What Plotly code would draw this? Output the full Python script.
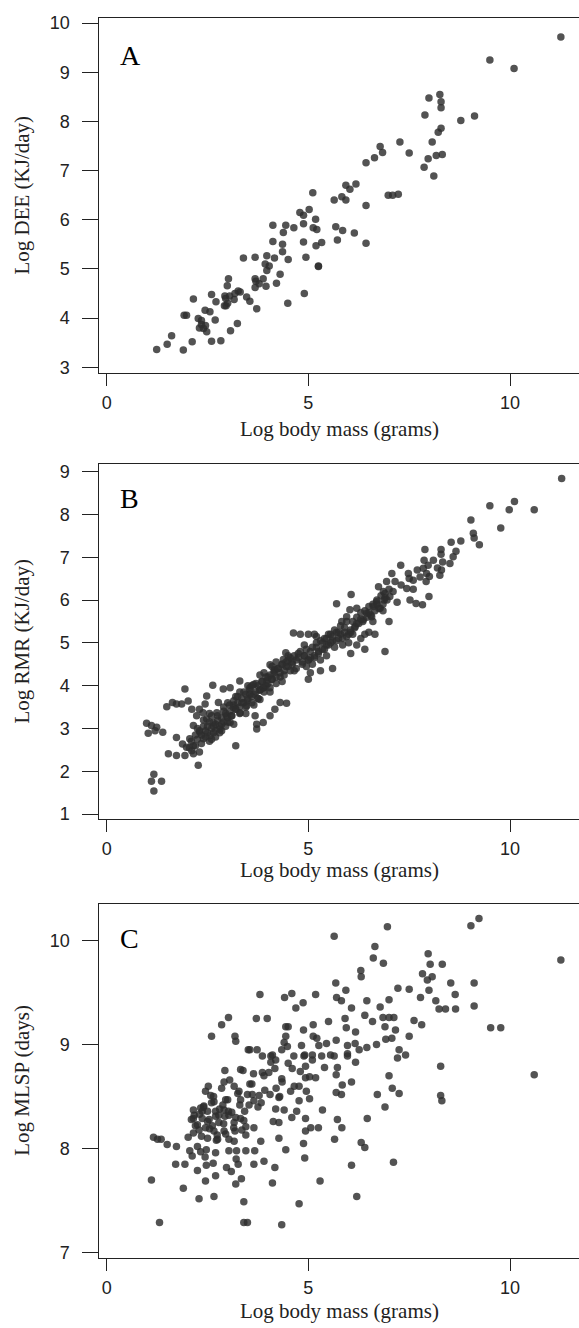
import plotly.graph_objects as go

# ---- Panel A: daily energy expenditure vs body mass (log scales) ----
dee_mass = [
    1.24, 1.50, 1.61, 1.90, 2.12, 2.15, 1.92, 1.98, 2.27, 2.35, 2.40, 2.48, 2.44, 2.56,
    2.60, 2.71, 2.69, 2.60, 2.83, 3.07, 3.24, 2.93, 2.96, 2.99, 3.02, 3.16, 3.26, 3.31,
    3.47, 3.55, 3.72, 3.68, 3.68, 3.78, 3.88, 3.95, 4.21, 4.30, 3.93, 4.03, 3.97, 3.39,
    3.68, 3.97, 4.16, 4.36, 4.50, 4.36, 4.12, 4.49, 4.90, 4.94, 4.88, 5.19, 5.33, 5.25,
    4.12, 4.44, 4.38, 4.64, 4.88, 4.88, 4.79, 5.02, 5.12, 5.21, 5.18, 5.11, 5.64, 5.83,
    5.93, 5.93, 6.03, 6.18, 5.68, 5.85, 6.14, 5.72, 6.43, 6.43, 6.43, 6.64, 6.84, 6.78,
    6.98, 7.09, 7.23, 11.26, 9.50, 10.10, 7.99, 8.26, 8.29, 8.29, 7.89, 8.78, 9.12, 8.29,
    8.22, 7.27, 8.07, 7.50, 7.97, 8.17, 8.32, 7.87, 8.11, 2.45, 2.30, 2.95, 3.05, 2.35,
    3.18, 3.00, 3.70, 5.25, 2.92,
]
dee_log = [
    3.36, 3.47, 3.64, 3.35, 3.52, 4.39, 4.06, 4.06, 3.99, 3.87, 3.79, 3.72, 4.16, 4.13,
    4.48, 4.33, 3.96, 3.53, 3.54, 3.74, 3.89, 4.45, 4.25, 4.66, 4.80, 4.38, 4.55, 4.53,
    4.43, 4.34, 4.19, 4.62, 4.80, 4.70, 4.80, 4.65, 4.71, 4.89, 5.10, 5.06, 4.97, 5.22,
    5.24, 5.27, 5.22, 5.35, 5.19, 5.50, 5.56, 4.30, 4.50, 5.24, 5.55, 5.47, 5.54, 5.06,
    5.89, 5.89, 5.74, 5.84, 5.92, 6.09, 6.15, 6.21, 5.84, 5.80, 6.01, 6.55, 6.40, 6.47,
    6.40, 6.70, 6.62, 6.73, 5.86, 5.78, 5.73, 5.59, 5.52, 6.29, 7.16, 7.26, 7.37, 7.49,
    6.50, 6.50, 6.52, 9.72, 9.25, 9.08, 8.48, 8.55, 8.40, 8.28, 8.13, 8.02, 8.11, 7.86,
    7.78, 7.58, 7.58, 7.36, 7.24, 7.31, 7.33, 7.07, 6.89, 3.85, 3.80, 4.40, 4.45, 3.95,
    4.50, 4.30, 4.75, 5.05, 4.25,
]

# ---- Panel B: resting metabolic rate vs body mass ----
rmr_mass = [
    11.28, 9.50, 10.11, 9.98, 10.60, 9.03, 9.77, 9.09, 9.11, 9.24, 8.54, 8.78, 7.89, 8.29,
    8.29, 8.66, 8.59, 8.51, 7.29, 7.87, 8.10, 7.97, 8.33, 8.30, 8.26, 7.85, 7.93, 7.77,
    7.92, 7.48, 7.60, 7.44, 7.52, 7.67, 7.83, 7.99, 7.07, 6.94, 7.15, 6.74, 6.86, 7.02,
    6.88, 6.69, 6.61, 6.78, 7.00, 6.06, 5.70, 6.03, 6.20, 5.83, 5.95, 6.45, 6.36, 6.57,
    6.16,
    0.99, 1.11, 1.24, 1.03, 1.20, 1.39, 1.17, 1.11, 1.36, 1.17, 1.49, 1.63, 1.53, 1.73,
    1.73, 1.94, 1.86, 2.02, 2.11, 2.27, 1.94, 1.88, 1.98, 2.11, 2.15, 2.06, 2.15, 2.23,
    2.30, 2.44, 2.48, 2.63, 2.77, 2.89, 3.06, 3.30, 3.20, 2.31, 2.40, 2.48, 2.64, 2.73,
    2.81, 2.56, 2.97, 3.14, 3.06, 3.31, 3.47, 3.55, 3.68, 3.80, 3.88, 3.64, 3.97, 4.05,
    4.17, 4.38, 4.44, 3.72, 3.88, 3.72, 4.05, 4.17, 4.30, 4.46, 4.63, 1.73, 2.39,
    4.85, 4.90, 4.95, 5.00, 5.05, 5.10, 5.15, 5.20, 5.25, 5.30, 5.35, 5.40, 5.45, 5.50,
    5.55, 5.60, 5.65, 5.70, 5.75, 5.80, 5.85, 5.90, 5.95, 6.00, 6.05, 6.10, 6.20, 6.30,
    6.40, 6.50, 5.05, 5.30, 5.60, 6.05, 6.40, 6.90, 5.00, 4.90, 5.20, 5.45, 6.65,
    2.35, 2.45, 2.50, 2.55, 2.60, 2.65, 2.70, 2.75, 2.80, 2.85, 2.90, 2.95, 3.00, 3.05,
    3.10, 3.15, 3.20, 3.25, 3.30, 3.35, 3.40, 3.45, 3.50, 3.55, 3.60, 3.65, 3.70, 3.75,
    3.80, 3.85, 3.90, 3.95, 4.00, 4.05, 4.10, 4.15, 4.20, 4.25, 4.30, 4.35, 4.40, 4.45,
    4.50, 4.55, 4.60, 4.70, 4.75,
    2.40, 2.55, 2.70, 2.85, 3.00, 3.15, 3.30, 3.45, 3.60, 3.75, 3.90, 4.05, 4.20, 4.35,
    4.50, 4.65, 2.20, 2.30, 2.25, 2.60, 2.90, 3.20, 3.50, 3.80, 4.10,
    6.30, 6.50, 6.70, 6.90, 7.10, 7.30, 7.50, 7.70, 6.20, 6.60, 6.85, 7.20, 7.60, 8.00,
    8.20, 4.80, 5.00, 5.15,
    2.05, 2.10, 2.15, 2.20, 2.25, 2.30, 2.35, 2.40, 2.45, 2.50, 2.55, 2.60, 2.65, 2.70,
    2.75, 2.80, 2.85, 2.90, 2.95, 3.00,
    3.05, 3.10, 3.15, 3.20, 3.25, 3.30, 3.35, 3.40, 3.45, 3.50, 3.55, 3.60, 3.65, 3.70,
    3.75, 3.80, 3.85, 3.90, 3.95, 4.00,
    4.05, 4.10, 4.15, 4.20, 4.25, 4.30, 4.35, 4.40, 4.45, 4.50, 4.55, 4.60, 4.65, 4.70,
    4.75, 4.80, 4.85, 4.90, 4.95, 5.00,
    5.05, 5.10, 5.15, 5.20, 5.25, 5.30, 5.35, 5.40, 5.45, 5.50, 5.55, 5.60, 5.65, 5.70,
    5.75, 5.80, 5.85, 5.90, 5.95, 6.00,
    6.05, 6.10, 6.15, 6.20, 6.25, 6.30, 6.35, 6.40, 6.45, 6.50, 6.55, 6.60, 6.65, 6.70,
    6.75, 6.80, 6.85, 6.90, 6.95, 7.00,
]
rmr_log = [
    8.84, 8.20, 8.30, 8.11, 8.11, 7.87, 7.68, 7.56, 7.45, 7.29, 7.35, 7.38, 7.18, 7.18,
    7.07, 7.14, 7.01, 6.85, 6.81, 6.93, 6.93, 6.81, 6.89, 6.70, 6.58, 6.74, 6.62, 6.54,
    6.43, 6.62, 6.46, 6.27, 6.00, 5.92, 5.89, 6.08, 6.62, 6.43, 6.43, 6.31, 6.20, 6.08,
    6.00, 5.96, 5.85, 5.81, 5.50, 6.13, 5.91, 5.77, 5.81, 5.50, 5.61, 5.69, 5.54, 5.61,
    5.38,
    3.12, 3.07, 3.03, 2.89, 2.95, 2.91, 1.93, 1.77, 1.77, 1.54, 3.51, 3.61, 2.41, 2.37,
    2.79, 3.92, 3.57, 3.64, 3.45, 2.14, 2.37, 2.64, 2.56, 2.48, 2.41, 2.76, 3.07, 3.30,
    3.45, 3.57, 3.76, 4.01, 3.61, 3.92, 3.95, 4.11, 2.60, 2.91, 2.76, 3.22, 3.14, 3.37,
    2.99, 2.83, 3.30, 3.49, 3.14, 3.37, 3.53, 3.80, 3.30, 3.68, 3.95, 4.03, 4.11, 4.49,
    4.38, 4.61, 4.77, 3.10, 3.14, 2.99, 3.30, 3.45, 3.61, 3.59, 5.23, 3.57, 3.37,
    4.55, 4.70, 4.45, 4.60, 4.80, 4.50, 4.65, 4.90, 4.75, 4.60, 5.00, 4.85, 5.10, 4.95,
    5.20, 5.05, 4.90, 5.25, 5.10, 5.20, 4.95, 5.25, 5.15, 5.00, 5.25, 5.20, 4.95, 5.10,
    5.20, 5.25, 4.30, 4.35, 4.40, 4.75, 4.85, 4.80, 4.15, 4.95, 5.15, 4.70, 5.20,
    2.85, 2.95, 3.05, 2.70, 3.00, 2.90, 3.10, 3.20, 3.05, 3.25, 3.15, 3.35, 3.25, 3.40,
    3.30, 3.55, 3.45, 3.60, 3.50, 3.70, 3.60, 3.80, 3.65, 3.90, 3.75, 3.55, 3.85, 4.00,
    3.90, 4.10, 3.95, 4.20, 4.05, 4.25, 4.15, 4.35, 4.20, 4.40, 4.30, 4.50, 4.35, 4.55,
    4.45, 4.65, 4.50, 4.60, 4.75,
    3.20, 3.35, 2.80, 2.95, 3.60, 3.10, 3.85, 3.35, 4.00, 3.70, 4.30, 3.85, 4.55, 4.10,
    4.70, 4.35, 2.60, 2.45, 3.00, 3.30, 3.50, 3.75, 4.00, 4.25, 4.45,
    5.55, 5.70, 5.90, 6.05, 6.20, 6.35, 6.50, 6.70, 5.45, 5.50, 5.75, 5.95, 6.25, 6.55,
    6.75, 5.20, 5.20, 5.20,
    2.55, 2.70, 2.60, 2.85, 2.75, 2.95, 2.65, 3.05, 2.80, 2.90, 3.15, 2.75, 3.05, 2.95,
    3.30, 2.90, 3.10, 3.40, 3.05, 3.15,
    3.55, 3.30, 3.65, 3.45, 3.75, 3.35, 3.60, 3.85, 3.50, 3.70, 3.95, 3.60, 3.80, 4.05,
    3.70, 3.90, 4.10, 3.85, 4.00, 4.20,
    3.95, 4.15, 4.30, 4.05, 4.40, 4.20, 4.50, 4.25, 4.45, 4.60, 4.35, 4.55, 4.70, 4.40,
    4.65, 4.80, 4.50, 4.70, 4.85, 4.60,
    4.65, 4.90, 4.70, 5.00, 4.80, 5.05, 4.85, 5.10, 4.95, 5.20, 5.00, 5.15, 5.30, 5.05,
    5.25, 5.40, 5.10, 5.35, 5.50, 5.20,
    5.30, 5.50, 5.35, 5.60, 5.45, 5.70, 5.50, 5.75, 5.60, 5.85, 5.65, 5.90, 5.75, 6.00,
    5.80, 6.10, 5.90, 6.15, 6.00, 6.25,
]

# ---- Panel C: maximum lifespan vs body mass ----
mlsp_mass = [
    6.96, 5.64, 9.03, 9.23, 11.26, 6.65, 6.61, 6.86, 7.97, 8.02, 8.32, 6.30, 6.31, 7.83,
    8.07, 7.95, 5.68, 5.93, 8.53, 9.11, 3.80, 4.41, 4.59, 5.18, 4.87, 4.69, 5.70, 5.82,
    6.07, 6.45, 6.78, 7.00, 7.22, 7.50, 7.78, 7.99, 8.16, 8.64, 8.24, 8.40, 8.65, 9.11,
    3.02, 2.85, 2.60, 3.18, 3.20, 3.71, 3.98, 4.44, 4.50, 4.88, 5.12, 5.50, 5.91, 5.94,
    6.17, 6.40, 6.59, 6.85, 7.00, 7.12, 6.90, 7.16, 7.62, 7.81, 7.50, 9.52, 9.77, 5.12,
    5.21, 5.69, 5.97, 6.16, 6.92, 7.07, 6.69, 6.45, 6.26, 5.97, 5.64, 5.33, 5.10, 4.89,
    4.40, 4.48, 4.34, 4.64, 3.51, 3.73, 3.86, 4.07, 4.07, 4.19, 7.25, 7.41, 7.21, 6.17,
    5.97, 5.72, 5.69, 6.07, 5.84, 5.69, 5.82, 8.28, 10.60, 7.00, 7.08, 7.25, 6.71, 6.90,
    8.28, 8.31, 6.46, 5.72, 5.83, 5.65, 6.31, 6.40, 7.11, 6.07, 6.20, 5.29, 4.77, 4.34,
    3.40, 3.49, 1.31, 1.11, 1.90, 2.29, 2.66, 3.40, 4.11, 3.20, 3.34, 2.45, 2.70, 3.09,
    2.25, 1.71, 1.94, 2.47, 2.64, 2.97, 3.26, 3.65, 3.90, 4.17, 4.91, 4.44, 4.27, 4.88,
    4.93, 5.06, 5.25, 4.93, 5.35, 4.77, 4.71, 4.59, 4.40, 4.19, 4.13, 4.27, 5.03, 4.77,
    4.34, 4.60, 4.93, 5.03, 5.18, 4.93, 3.64, 3.86, 4.02, 4.17, 3.32, 2.93, 2.91, 3.16,
    2.52, 3.28, 3.32, 3.49, 3.61, 3.65, 3.83, 3.92, 4.29, 3.78, 2.58, 2.66, 2.95, 2.41,
    2.15, 2.37, 2.50, 2.70, 2.91, 3.02, 2.93, 2.37, 2.54, 2.15, 2.25, 2.29, 2.45, 2.62,
    2.78, 2.91, 3.16, 3.32, 3.42, 3.45, 3.65, 3.18, 3.45, 3.82, 3.16, 3.03, 2.72, 2.50,
    2.02, 1.16, 1.26, 1.35, 1.50, 1.73, 2.06, 2.12, 2.25, 2.33, 2.47, 2.44, 2.70, 3.03,
    3.22, 3.21, 3.45, 3.67, 3.38, 3.55, 4.11, 4.83, 5.26, 5.45, 5.55, 4.44, 4.91, 4.56,
    2.33, 2.78, 3.03, 2.66, 2.74, 2.17, 2.88, 3.53, 4.27,
    2.10, 2.20, 2.30, 2.40, 2.50, 2.60, 2.70, 2.80, 2.90, 3.00, 3.10, 3.20, 3.30, 3.40,
    2.15, 2.35, 2.55, 2.75, 2.95, 3.15, 3.35, 3.55, 2.45, 2.65, 2.85, 3.05, 3.25,
    3.60, 3.90, 4.20, 4.50, 4.80, 5.10, 5.40, 3.75, 4.05, 4.35, 4.65, 4.95,
]
mlsp_log = [
    10.13, 10.04, 10.14, 10.21, 9.81, 9.94, 9.83, 9.78, 9.87, 9.77, 9.77, 9.71, 9.65, 9.68,
    9.65, 9.62, 9.59, 9.52, 9.59, 9.59, 9.48, 9.45, 9.49, 9.48, 9.40, 9.35, 9.45, 9.42,
    9.35, 9.42, 9.36, 9.43, 9.54, 9.53, 9.45, 9.52, 9.42, 9.48, 9.34, 9.34, 9.34, 9.37,
    9.26, 9.19, 9.08, 9.08, 9.03, 9.25, 9.25, 9.17, 9.17, 9.14, 9.19, 9.22, 9.25, 9.16,
    9.12, 9.28, 9.22, 9.26, 9.26, 9.26, 9.17, 9.14, 9.23, 9.19, 9.08, 9.16, 9.16, 9.08,
    9.06, 9.04, 8.99, 9.01, 9.05, 9.06, 9.00, 8.97, 8.95, 8.91, 8.89, 8.89, 8.90, 8.89,
    9.02, 8.98, 8.95, 8.89, 8.95, 8.95, 8.89, 8.89, 8.83, 8.85, 8.95, 8.90, 8.87, 8.83,
    8.89, 8.78, 8.71, 8.64, 8.61, 8.54, 8.52, 8.79, 8.71, 8.70, 8.58, 8.53, 8.52, 8.40,
    8.51, 8.46, 8.29, 8.28, 8.20, 8.09, 8.06, 8.01, 7.87, 7.84, 7.54, 7.69, 7.47, 7.27,
    7.29, 7.29, 7.29, 7.70, 7.62, 7.52, 7.54, 7.49, 7.67, 7.66, 7.71, 7.69, 7.74, 7.78,
    7.79, 7.85, 7.85, 7.84, 7.86, 7.82, 7.85, 7.85, 7.88, 7.82, 7.91, 7.99, 8.10, 8.05,
    8.17, 8.20, 8.20, 8.29, 8.37, 8.46, 8.36, 8.30, 8.37, 8.38, 8.26, 8.49, 8.48, 8.60,
    8.67, 8.77, 8.79, 8.69, 8.68, 8.68, 8.72, 8.73, 8.73, 8.77, 8.76, 8.75, 8.64, 8.60,
    8.60, 8.55, 8.47, 8.52, 8.52, 8.46, 8.44, 8.56, 8.50, 8.51, 8.51, 8.45, 8.47, 8.41,
    8.37, 8.36, 8.36, 8.36, 8.37, 8.36, 8.31, 8.29, 8.28, 8.29, 8.23, 8.18, 8.20, 8.22,
    8.25, 8.17, 8.25, 8.29, 8.36, 8.21, 8.20, 8.17, 8.13, 8.07, 8.07, 8.09, 8.08, 8.10,
    8.11, 8.11, 8.09, 8.09, 8.04, 8.02, 7.98, 7.93, 8.02, 7.97, 7.99, 7.92, 7.96, 7.98,
    7.98, 7.90, 7.98, 7.98, 8.75, 8.95, 8.90, 8.99, 8.99, 9.01, 8.90, 9.08, 8.90, 8.55,
    8.39, 8.32, 8.32, 8.17, 8.13, 8.32, 8.42, 8.42, 8.25,
    8.28, 8.22, 8.33, 8.40, 8.26, 8.44, 8.31, 8.38, 8.24, 8.47, 8.35, 8.30, 8.42, 8.27,
    8.15, 8.12, 8.19, 8.09, 8.14, 8.20, 8.18, 8.62, 8.55, 8.50, 8.58, 8.66, 8.53,
    8.62, 8.70, 8.58, 8.82, 8.74, 8.85, 8.78, 8.40, 8.52, 8.64, 8.60, 8.55,
]

x_ticks = [0, 5, 10]
panels = [
    dict(x=dee_mass, y=dee_log, letter="A", ytitle="Log DEE (KJ/day)",
         yticks=[3, 4, 5, 6, 7, 8, 9, 10], yrange=[2.879, 10.107],
         top=14.0, bottom=371.7, xtitle_y=428, letter_y=52),
    dict(x=rmr_mass, y=rmr_log, letter="B", ytitle="Log RMR (KJ/day)",
         yticks=[1, 2, 3, 4, 5, 6, 7, 8, 9], yrange=[0.877, 9.186],
         top=462.7, bottom=821.0, xtitle_y=872, letter_y=498),
    dict(x=mlsp_mass, y=mlsp_log, letter="C", ytitle="Log MLSP (days)",
         yticks=[7, 8, 9, 10], yrange=[6.949, 10.353],
         top=905.7, bottom=1262.7, xtitle_y=1316, letter_y=941),
]

W, H = 579, 1328
left_px = 99.3
serif = "Liberation Serif, Times New Roman, serif"
sans = "Liberation Sans, Arial, Helvetica, sans-serif"
ink = "#222222"

fig = go.Figure()
layout = dict(
    width=W, height=H, margin=dict(l=0, r=0, t=0, b=0),
    paper_bgcolor="white", plot_bgcolor="white", showlegend=False,
    annotations=[],
)

for i, p in enumerate(panels, start=1):
    xa = "x" if i == 1 else f"x{i}"
    ya = "y" if i == 1 else f"y{i}"
    fig.add_trace(go.Scatter(
        x=p["x"], y=p["y"], mode="markers", xaxis=xa, yaxis=ya,
        marker=dict(size=7.5, color="rgba(45,45,45,0.82)", line=dict(width=0)),
        hoverinfo="skip",
    ))
    ydom = [1 - p["bottom"] / H, 1 - p["top"] / H]
    key = "" if i == 1 else str(i)
    layout["xaxis" + key] = dict(
        domain=[left_px / W, 1.0], range=[-0.183, 11.71], anchor=ya,
        tickvals=x_ticks, ticks="outside", ticklen=12, tickwidth=1, tickcolor=ink,
        showline=True, linecolor=ink, linewidth=1, mirror=True,
        showgrid=False, zeroline=False, ticklabelstandoff=1,
        tickfont=dict(family=sans, size=18, color=ink), fixedrange=True,
    )
    layout["yaxis" + key] = dict(
        domain=ydom, range=p["yrange"], anchor=xa,
        tickvals=p["yticks"], ticks="outside", ticklen=16, tickwidth=1, tickcolor=ink,
        showline=True, linecolor=ink, linewidth=1, mirror=False,
        showgrid=False, zeroline=False, ticklabelstandoff=9,
        tickfont=dict(family=sans, size=18, color=ink), fixedrange=True,
    )
    # panel letter
    layout["annotations"].append(dict(
        text=p["letter"], xref="paper", yref="paper", x=118 / W, y=1 - p["letter_y"] / H,
        xanchor="left", yanchor="middle", showarrow=False,
        font=dict(family=serif, size=28, color="black"),
    ))
    # x axis title
    layout["annotations"].append(dict(
        text="Log body mass (grams)", xref="paper", yref="paper",
        x=(left_px + W) / 2 / W, y=1 - p["xtitle_y"] / H,
        xanchor="center", yanchor="middle", showarrow=False,
        font=dict(family=serif, size=21, color=ink),
    ))
    # y axis title
    layout["annotations"].append(dict(
        text=p["ytitle"], xref="paper", yref="paper", textangle=-90,
        x=22 / W, y=1 - (p["top"] + p["bottom"]) / 2 / H,
        xanchor="center", yanchor="middle", showarrow=False,
        font=dict(family=serif, size=21, color=ink),
    ))

fig.update_layout(**layout)
fig.write_html("out.html", config={"displayModeBar": False})
